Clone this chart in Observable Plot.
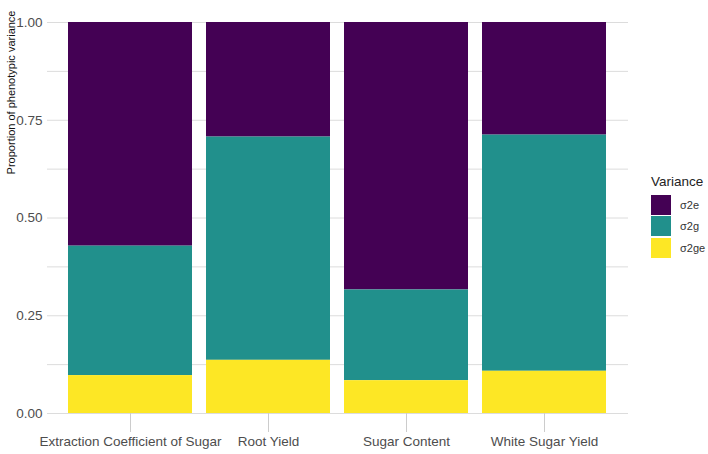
<!DOCTYPE html>
<html>
<head>
<meta charset="utf-8">
<script src="https://cdn.jsdelivr.net/npm/d3@7"></script>
<script src="https://cdn.jsdelivr.net/npm/@observablehq/plot@0.6"></script>
<style>
  html, body { margin: 0; padding: 0; background: #fff; }
  #wrap { position: relative; width: 708px; height: 454px; font-family: "Liberation Sans", Arial, sans-serif; }
  #legend { position: absolute; left: 651px; top: 174px; }
  #legend .title { font-size: 13.5px; color: #222; margin-bottom: 5px; }
  #legend .row { display: flex; align-items: center; height: 21.5px; }
  #legend .sw { width: 20px; height: 20px; margin-right: 9px; }
  #legend .lab { font-size: 11px; color: #333; }
</style>
</head>
<body>
<div id="wrap"></div>
<script>
const categories = ["Extraction Coefficient of Sugar", "Root Yield", "Sugar Content", "White Sugar Yield"];
const components = ["σ2e", "σ2g", "σ2ge"];
const colors = ["#440154", "#21908C", "#FDE725"];
const s2e  = [0.572, 0.293, 0.684, 0.288];
const s2g  = [0.331, 0.571, 0.232, 0.604];
const s2ge = [0.097, 0.136, 0.084, 0.108];
const yMajor = [0, 0.25, 0.5, 0.75, 1];
const yMinor = [0.125, 0.375, 0.625, 0.875];
const yLabel = "Proportion of phenotypic variance";
const legendTitle = "Variance";

const series = {"σ2e": s2e, "σ2g": s2g, "σ2ge": s2ge};
const table = [];
categories.forEach((c, i) => {
  components.forEach(k => table.push({trait: c, component: k, value: series[k][i]}));
});

const grid = "#dcdcdc";
const chart = Plot.plot({
  width: 708,
  height: 454,
  marginLeft: 47,
  marginRight: 80,
  marginTop: 22,
  marginBottom: 41,
  style: {fontFamily: "Liberation Sans, Arial, sans-serif", background: "#fff"},
  x: {domain: categories, paddingInner: 0.1, paddingOuter: 0.15, label: null},
  y: {domain: [0, 1], label: null},
  color: {domain: components, range: colors},
  marks: [
    Plot.ruleY(yMinor, {stroke: grid, strokeWidth: 1}),
    Plot.ruleY(yMajor, {stroke: grid, strokeWidth: 1}),
    Plot.barY(table, Plot.stackY({
      x: "trait", y: "value", fill: "component",
      order: ["σ2ge", "σ2g", "σ2e"]
    })),
    Plot.axisX({tickSize: 19, tickPadding: 4, stroke: "#cccccc", fill: "#4d4d4d", fontSize: 13.5, label: null}),
    Plot.axisY(yMajor, {tickSize: 0, tickPadding: 5, fill: "#4d4d4d", fontSize: 13.5, tickFormat: d3.format(".2f"), label: null}),
    Plot.text([yLabel], {text: d => d, frameAnchor: "top-left", rotate: -90, textAnchor: "end", dx: -40, dy: -12, fontSize: 11, fill: "#111"})
  ]
});

const wrap = document.getElementById("wrap");
wrap.appendChild(chart);

const leg = document.createElement("div");
leg.id = "legend";
leg.innerHTML = `<div class="title">${legendTitle}</div>` +
  components.map((k, i) => `<div class="row"><div class="sw" style="background:${colors[i]}"></div><span class="lab">${k}</span></div>`).join("");
wrap.appendChild(leg);
</script>
</body>
</html>
